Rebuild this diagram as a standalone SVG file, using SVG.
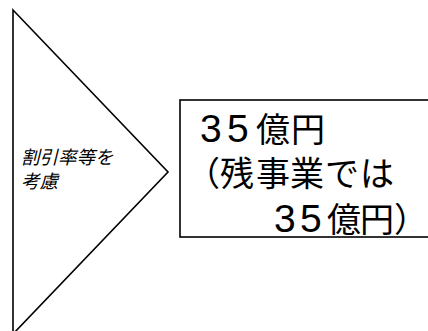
<svg xmlns="http://www.w3.org/2000/svg" width="428" height="331" viewBox="0 0 428 331">
<style>
.shape{fill:#fff;stroke:#000;stroke-width:1.6}
.dig{font-family:"Liberation Sans",sans-serif;font-size:39px;fill:#000}
.cjk{font-family:"Noto Sans CJK JP",sans-serif;font-size:34px;fill:#000}
.small{font-family:"Noto Sans CJK JP",sans-serif;font-size:18.5px;font-style:italic;fill:#000}
</style>
<rect width="428" height="331" fill="#fff"/>
<g id="triangle">
<polygon class="shape" points="13,10 168,172 13,334"/>
<text class="small" x="21" y="164">割引率等を</text>
<text class="small" x="21" y="188">考慮</text>
</g>
<g id="result">
<rect class="shape" x="180" y="100" width="260" height="137"/>
<text y="142"><tspan class="dig" x="200">3</tspan><tspan class="dig" x="227">5</tspan><tspan class="cjk" x="256">億</tspan><tspan class="cjk" x="291">円</tspan></text>
<text class="cjk" y="186"><tspan x="186">（</tspan><tspan x="220">残</tspan><tspan x="256">事</tspan><tspan x="290">業</tspan><tspan x="325">で</tspan><tspan x="360">は</tspan></text>
<text y="231.5"><tspan class="dig" x="274">3</tspan><tspan class="dig" x="300">5</tspan><tspan class="cjk" x="327">億</tspan><tspan class="cjk" x="360">円</tspan><tspan class="cjk" x="394">）</tspan></text>
</g>
<g id="connectors"/>
</svg>
